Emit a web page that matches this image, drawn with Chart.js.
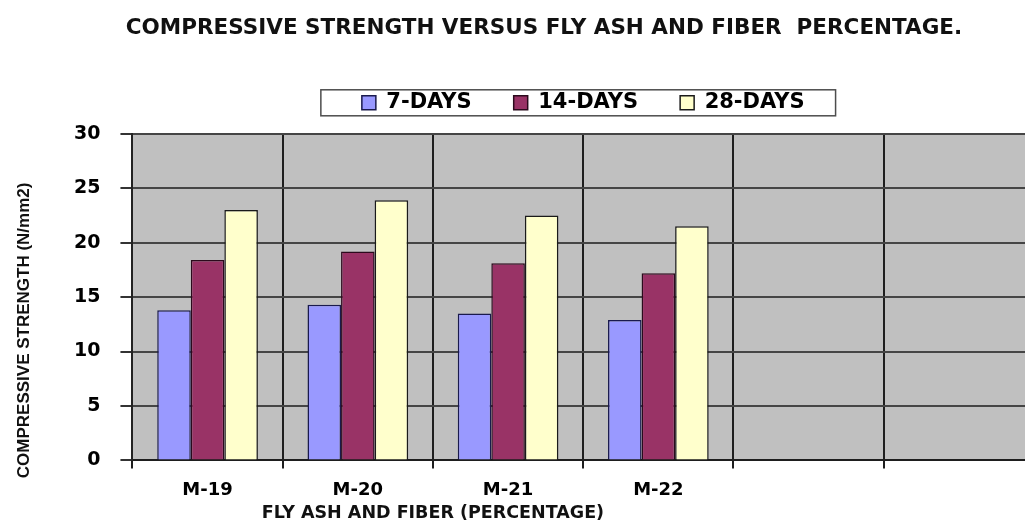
<!DOCTYPE html>
<html>
<head>
<meta charset="utf-8">
<title>Compressive strength versus fly ash and fiber percentage</title>
<script src="https://cdn.jsdelivr.net/npm/chart.js@4.4.1/dist/chart.umd.min.js"></script>
<style>
  html, body { margin: 0; padding: 0; background: #fff; overflow: hidden; }
</style>
</head>
<body>
<canvas id="strengthChart" width="1040" height="526"></canvas>
<script>
// data
var categories = ["M-19", "M-20", "M-21", "M-22", "", ""];
var days7 = [13.8, 14.3, 13.5, 12.9, null, null];
var days14 = [18.4, 19.2, 18.1, 17.2, null, null];
var days28 = [23.0, 23.9, 22.5, 21.5, null, null];
var seriesNames = ["7-DAYS", "14-DAYS", "28-DAYS"];
var yMin = 0, yMax = 30, yStep = 5;

var chartTitle = "COMPRESSIVE STRENGTH VERSUS FLY ASH AND FIBER  PERCENTAGE.";
var xTitle = "FLY ASH AND FIBER (PERCENTAGE)";
var yTitle = "COMPRESSIVE STRENGTH (N/mm2)";

var mainFont = "'DejaVu Sans', Verdana, sans-serif";
var sideFont = "'Liberation Sans', Arial, sans-serif";

// grey plot area, legend frame and axis titles
var chartDecor = {
    id: 'chartDecor',
    beforeDraw: function (chart) {
        var ctx = chart.ctx, a = chart.chartArea;
        ctx.save();
        ctx.fillStyle = '#c0c0c0';
        ctx.fillRect(a.left, a.top, a.right - a.left, a.bottom - a.top);
        ctx.restore();
    },
    afterDraw: function (chart) {
        var ctx = chart.ctx, a = chart.chartArea;
        ctx.save();

        // frame round the legend
        var hb = chart.legend.legendHitBoxes;
        if (hb && hb.length) {
            var first = hb[0], last = hb[hb.length - 1];
            var cy = first.top + first.height / 2;
            var x1 = first.left - 41, x2 = last.left + last.width + 31;
            ctx.strokeStyle = '#4d4d4d';
            ctx.lineWidth = 1.5;
            ctx.strokeRect(x1, cy - 13, x2 - x1, 26);
        }

        ctx.fillStyle = '#111';
        ctx.textBaseline = 'middle';
        ctx.textAlign = 'center';

        // x title sits under the four filled categories
        var xs = chart.scales.x;
        var cx = (xs.getPixelForValue(0) + xs.getPixelForValue(3)) / 2;
        ctx.font = "bold 17.5px " + mainFont;
        ctx.fillText(xTitle, cx, a.bottom + 53);

        // y title
        ctx.translate(24, a.bottom - 130);
        ctx.rotate(-Math.PI / 2);
        ctx.font = "bold 17px " + sideFont;
        ctx.fillText(yTitle, 0, 0);
        ctx.restore();
    }
};

var barData = {
    labels: categories,
    datasets: [{
        label: seriesNames[0],
        data: days7,
        backgroundColor: "#9999ff",
        borderColor: "#1a1a4d",
        borderWidth: 1.5
    }, {
        label: seriesNames[1],
        data: days14,
        backgroundColor: "#993366",
        borderColor: "#2b0a1c",
        borderWidth: 1.5
    }, {
        label: seriesNames[2],
        data: days28,
        backgroundColor: "#ffffcc",
        borderColor: "#1a1a1a",
        borderWidth: 1.5
    }]
};

var barOptions = {
    responsive: false,
    animation: false,
    categoryPercentage: 0.67,
    barPercentage: 1.0,
    layout: {
        padding: { left: 54, right: 6, top: 0, bottom: 14 }
    },
    plugins: {
        title: {
            display: true,
            text: chartTitle,
            color: '#111',
            font: { family: mainFont, size: 21.5, weight: 'bold' },
            padding: { top: 16, bottom: 8.5 }
        },
        // empty spacer between the legend and the plot
        subtitle: {
            display: true,
            text: '',
            weight: 500,
            padding: 0,
            font: { size: 10.5, lineHeight: 1 }
        },
        legend: {
            display: true,
            position: 'top',
            fullSize: false,
            labels: {
                boxWidth: 14,
                boxHeight: 14,
                padding: 42,
                color: '#000',
                font: { family: mainFont, size: 21, weight: 'bold' }
            }
        },
        tooltip: { enabled: false }
    },
    scales: {
        x: {
            grid: {
                color: '#1e1e1e',
                lineWidth: 2,
                tickLength: 8,
                offset: true
            },
            border: { color: '#1e1e1e', width: 2 },
            ticks: {
                color: '#000',
                padding: 11,
                maxRotation: 0,
                autoSkip: false,
                font: { family: mainFont, size: 18, weight: 'bold' }
            }
        },
        y: {
            min: yMin,
            max: yMax,
            ticks: {
                stepSize: yStep,
                color: '#000',
                padding: 20,
                font: { family: mainFont, size: 19, weight: 'bold' }
            },
            grid: {
                color: '#454545',
                lineWidth: 2,
                tickLength: 12,
                tickColor: '#333'
            },
            border: { color: '#222', width: 2 }
        }
    }
};

var ctx = document.getElementById("strengthChart").getContext("2d");
new Chart(ctx, { type: 'bar', data: barData, options: barOptions, plugins: [chartDecor] });
</script>
</body>
</html>
